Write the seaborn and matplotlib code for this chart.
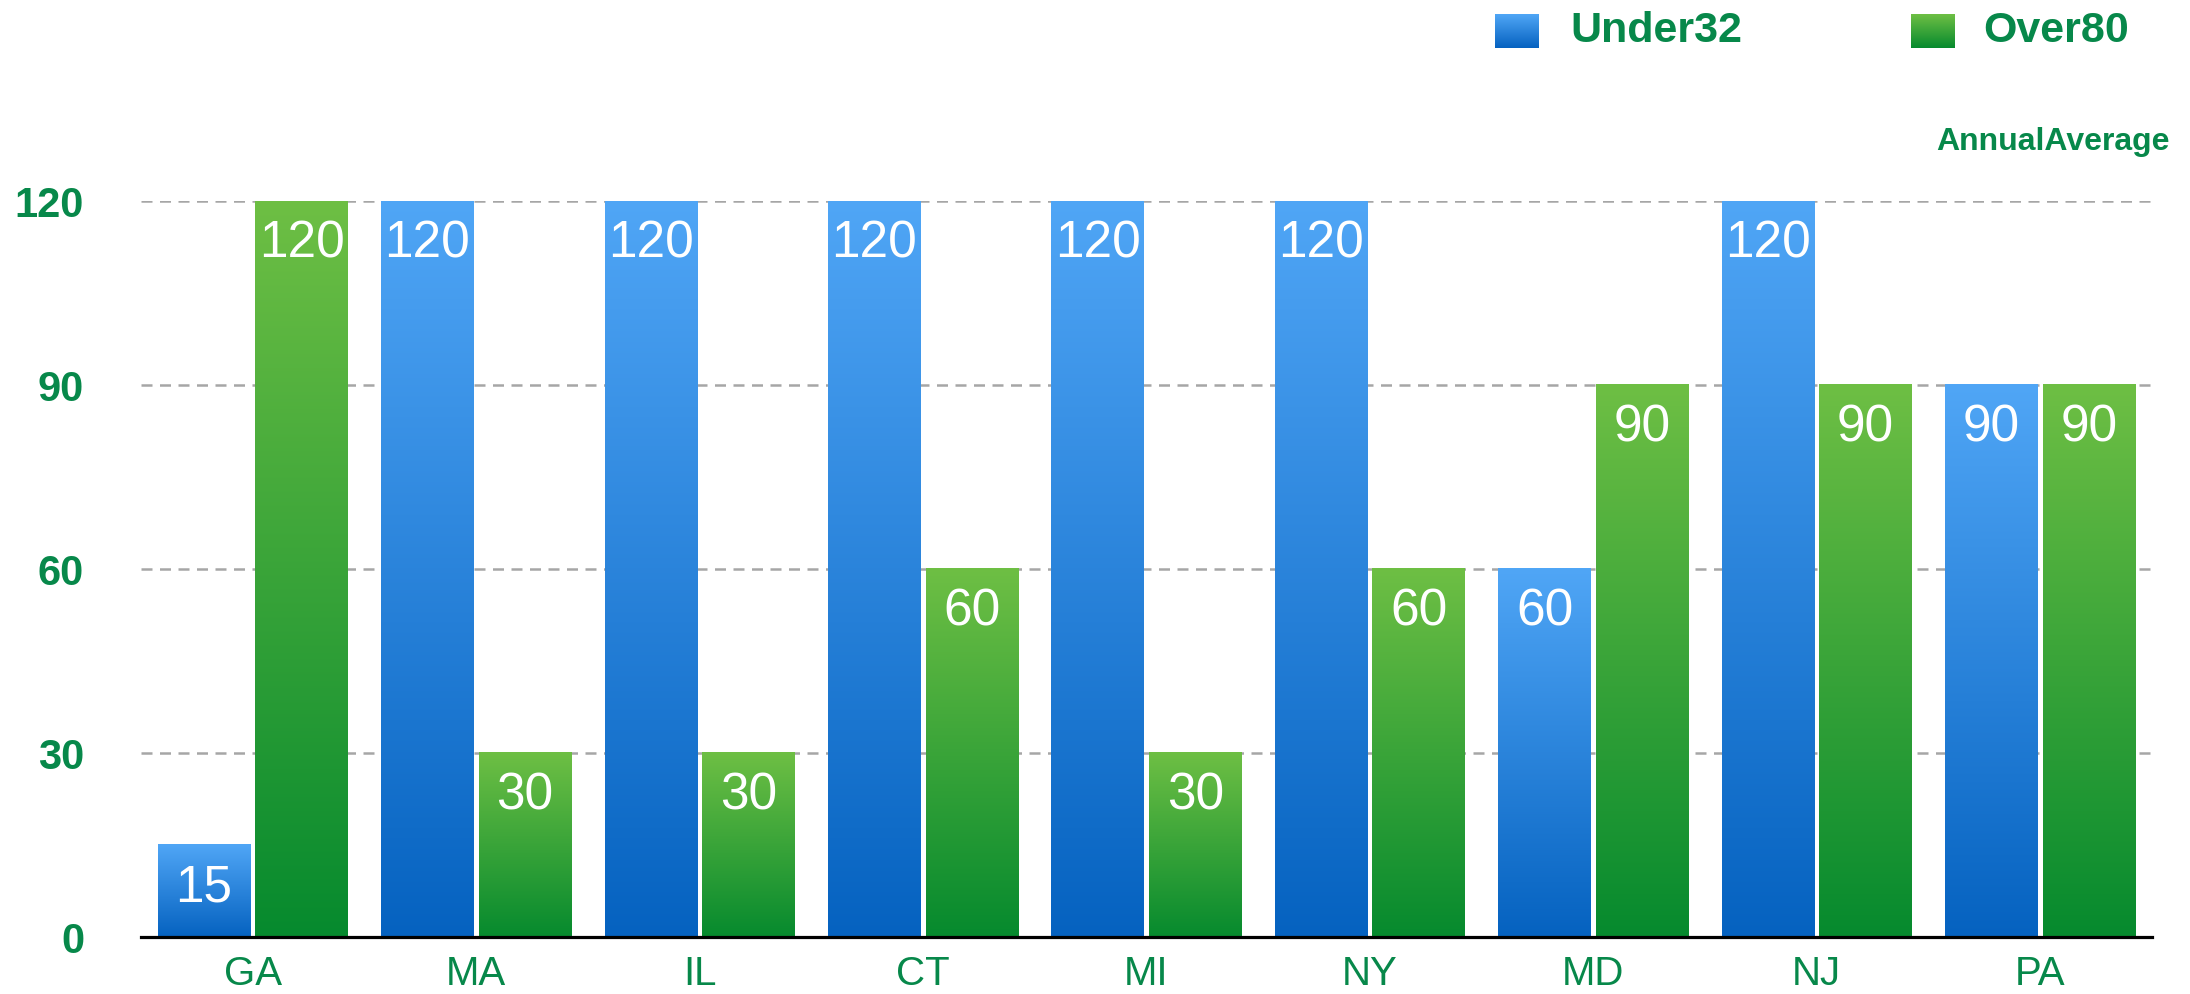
import numpy as np
import pandas as pd
import matplotlib
matplotlib.use("Agg")
import matplotlib.pyplot as plt
from matplotlib.colors import to_rgb
import seaborn as sns

# chart data
states = ["GA", "MA", "IL", "CT", "MI", "NY", "MD", "NJ", "PA"]
under32 = [15, 120, 120, 120, 120, 120, 60, 120, 90]
over80 = [120, 30, 30, 60, 30, 60, 90, 90, 90]
series = ["Under32", "Over80"]
yticks = [0, 30, 60, 90, 120]

text_green = "#07884A"
grad = {
    "Under32": ("#50A6F6", "#0562C0"),
    "Over80": ("#6EBF44", "#068A2E"),
}
flat = {"Under32": "#2A84DB", "Over80": "#3AA43A"}

df = pd.DataFrame({
    "state": states * 2,
    "value": under32 + over80,
    "group": ["Under32"] * len(states) + ["Over80"] * len(states),
})

sns.set_style("white")
plt.rcParams["font.family"] = ["Liberation Sans", "DejaVu Sans"]

fig = plt.figure(figsize=(21.9, 9.95), dpi=100)
ax = fig.add_axes([0.0644, 0.0573, 0.9182, 0.7397])

sns.barplot(data=df, x="state", y="value", hue="group", hue_order=series,
            palette=flat, width=0.873, gap=0.051, legend=False, ax=ax,
            errorbar=None, zorder=2)

ax.set_xlim(-0.5, len(states) - 0.5)
ax.set_ylim(0, 120)


def gradient(top, bottom, n=256):
    t = np.linspace(0, 1, n)[:, None, None]
    a = np.array(to_rgb(top))[None, None, :]
    b = np.array(to_rgb(bottom))[None, None, :]
    return a * (1 - t) + b * t


# replace the flat bars with vertical gradients
for p in list(ax.patches):
    h = p.get_height()
    if h <= 0:
        continue
    fc = np.array(p.get_facecolor()[:3])
    g = min(flat, key=lambda k: np.abs(np.array(to_rgb(flat[k])) - fc).sum())
    x0, w = p.get_x(), p.get_width()
    ax.imshow(gradient(*grad[g]), extent=[x0, x0 + w, 0, h], origin="upper",
              aspect="auto", zorder=2, interpolation="bilinear")
    p.set_visible(False)
    ax.annotate(f"{h:g}", (x0 + w / 2, h), xytext=(0, -30),
                textcoords="offset points", ha="center", va="center",
                color="white", fontsize=37, zorder=3)

ax.set_xlim(-0.5, len(states) - 0.5)
ax.set_ylim(0, 120)

# grid and axes styling
for v in yticks[1:]:
    ax.axhline(v, color="#A6A6A6", lw=1.8, ls=(0, (4.4, 3)), zorder=1)
for s in ["top", "right", "left"]:
    ax.spines[s].set_visible(False)
ax.spines["bottom"].set_color("black")
ax.spines["bottom"].set_linewidth(2.3)
ax.spines["bottom"].set_zorder(4)

ax.set_yticks(yticks)
ax.set_yticklabels([str(v) for v in yticks], fontsize=30, fontweight="bold",
                   color=text_green)
ax.tick_params(axis="y", length=0, pad=41)
ax.tick_params(axis="x", length=0, pad=12, labelsize=29, labelcolor=text_green)
ax.set_xlabel("")
ax.set_ylabel("")

# legend at the top
legend_items = [("Under32", 1495, 1570), ("Over80", 1911, 1983)]
W, H = 2190, 995
for g, sx, tx in legend_items:
    lax = fig.add_axes([sx / W, 1 - 49 / H, 44 / W, 34 / H])
    lax.imshow(gradient(*grad[g]), aspect="auto", interpolation="bilinear")
    lax.axis("off")
    fig.text(tx / W, 1 - 31 / H, g, fontsize=31, fontweight="bold",
             color=text_green, ha="left", va="center")

fig.text(2170 / W, 1 - 150 / H, "AnnualAverage", fontsize=23,
         fontweight="bold", color=text_green, ha="right", va="baseline")

fig.savefig("out.png", dpi=100)
